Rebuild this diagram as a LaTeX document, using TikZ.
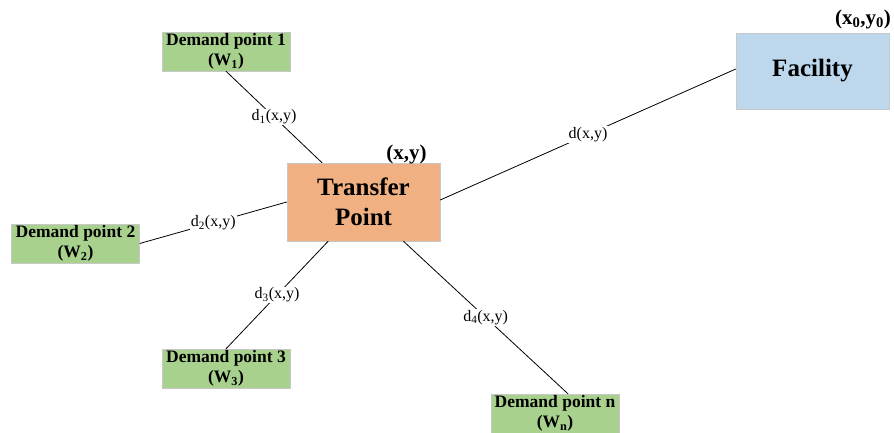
\documentclass[tikz,border=0pt]{standalone}
\usepackage{fontspec}
\setmainfont{Liberation Serif}
\usetikzlibrary{calc}
\definecolor{dpgreen}{RGB}{169,209,142}
\definecolor{tpor}{RGB}{240,176,130}
\definecolor{facblue}{RGB}{189,215,236}
\definecolor{boxgray}{RGB}{200,200,200}
\begin{document}
\begin{tikzpicture}[x=1pt,y=-1pt,
  dp/.style={draw=boxgray, fill=dpgreen, minimum width=128pt, minimum height=39pt, inner sep=0pt, align=center, font=\fontsize{17.5}{20}\selectfont\bfseries},
  bigbox/.style={draw=boxgray, minimum width=153pt, inner sep=0pt, align=center, font=\fontsize{25}{30}\selectfont\bfseries},
  elab/.style={fill=white, inner sep=1pt, font=\fontsize{16}{18}\selectfont},
  coordlab/.style={inner sep=0pt, font=\fontsize{21}{24}\selectfont\bfseries},
  conn/.style={draw=black, line width=0.8pt}]
\useasboundingbox (0,0) rectangle (894,433);
\clip (0,0) rectangle (894,433);
\node[dp] (dp1) at (226,51.5) {Demand point 1\\(W\textsubscript{1})};
\node[dp] (dp2) at (75.5,243.5) {Demand point 2\\(W\textsubscript{2})};
\node[dp] (dp3) at (226,368.5) {Demand point 3\\(W\textsubscript{3})};
\node[dp] (dpn) at (555,413.5) {Demand point n\\(W\textsubscript{n})};
\node[bigbox, fill=tpor, minimum height=78pt] (tp) at (363.5,202) {Transfer\\Point};
\node[bigbox, fill=facblue, minimum height=76pt] (fac) at (812.5,71) {Facility};
\node[coordlab] (tplab) at (406.5,154) {(x,y)};
\node[coordlab] (faclab) at (863,19) {(x\textsubscript{0},y\textsubscript{0})};
\draw[conn] (dp1.south) -- node[elab] {d\textsubscript{1}(x,y)} ($(tp.north west)!0.23!(tp.north east)$);
\draw[conn] (dp2.east) -- node[elab] {d\textsubscript{2}(x,y)} (tp.west);
\draw[conn] (dp3.north) -- node[elab] {d\textsubscript{3}(x,y)} ($(tp.south west)!0.27!(tp.south east)$);
\draw[conn] ($(tp.south west)!0.76!(tp.south east)$) -- node[elab] {d\textsubscript{4}(x,y)} ($(dpn.north)+(13,0)$);
\draw[conn] ($(tp.east)+(0,-2)$) -- node[elab] {d(x,y)} ($(fac.west)+(0,-2)$);
\end{tikzpicture}
\end{document}
